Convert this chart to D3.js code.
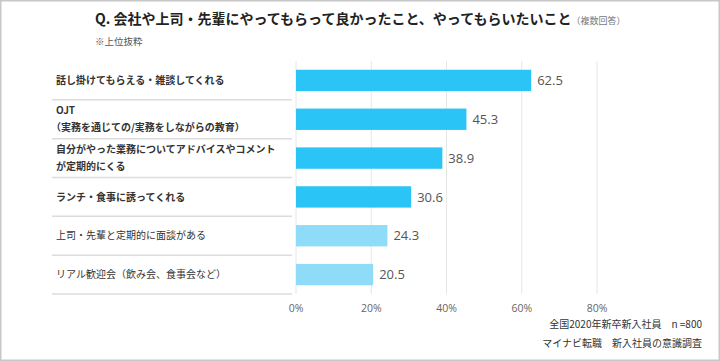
<!DOCTYPE html>
<html><head><meta charset="utf-8">
<script src="https://cdn.jsdelivr.net/npm/d3@7"></script>
<style>body{margin:0;background:#fff;}svg{display:block;font-family:"Noto Sans CJK JP","Noto Sans",sans-serif;}</style>
</head><body>
<svg id="c" width="720" height="361"></svg>
<script>
const categories = [
  ["話し掛けてもらえる・雑談してくれる"],
  ["OJT", "（実務を通じての/実務をしながらの教育）"],
  ["自分がやった業務についてアドバイスやコメント", "が定期的にくる"],
  ["ランチ・食事に誘ってくれる"],
  ["上司・先輩と定期的に面談がある"],
  ["リアル歓迎会（飲み会、食事会など）"]
];
const values = [62.5, 45.3, 38.9, 30.6, 24.3, 20.5];
const highlighted = [true, true, true, true, false, false];
const tickValues = [0, 20, 40, 60, 80];
const title = "Q. 会社や上司・先輩にやってもらって良かったこと、やってもらいたいこと";
const titleNote = "（複数回答）";
const subNote = "※上位抜粋";
const sourceLines = ["全国2020年新卒新入社員　n =800", "マイナビ転職　新入社員の意識調査"];

const svg = d3.select("#c");
svg.append("rect").attr("x",0.75).attr("y",0.75).attr("width",718.5).attr("height",359.5)
  .attr("fill","#fff").attr("stroke","#c8c8c8").attr("stroke-width",1.5);

const ids = categories.map((d,i)=>i);
const x = d3.scaleLinear().domain([0,80]).range([296,597]);
const y = d3.scaleBand().domain(ids).range([61,294]).paddingInner(0.45).paddingOuter(0.225);
const step = y.step();

// gridlines
svg.append("g").selectAll("line").data(tickValues).join("line")
  .attr("x1",d=>x(d)).attr("x2",d=>x(d)).attr("y1",61).attr("y2",294)
  .attr("stroke","#e6e6e6").attr("stroke-width",1);

// separators
svg.append("g").selectAll("line").data(ids).join("line")
  .attr("x1",52).attr("x2",292)
  .attr("y1",d=>y(d)+y.bandwidth()/2+step/2).attr("y2",d=>y(d)+y.bandwidth()/2+step/2)
  .attr("stroke","#dcdcdc").attr("stroke-width",1.5);

// bars
svg.append("g").selectAll("rect").data(ids).join("rect")
  .attr("x",x(0)).attr("y",d=>y(d)).attr("width",d=>x(values[d])-x(0)).attr("height",y.bandwidth())
  .attr("fill",d=>highlighted[d]?"#2AC4F6":"#8FDCF8");

// value labels
svg.append("g").selectAll("text").data(ids).join("text")
  .attr("x",d=>x(values[d])+6).attr("y",d=>y(d)+y.bandwidth()/2)
  .attr("dy","0.36em").attr("font-size",13).attr("fill","#555")
  .attr("font-family","'Open Sans','Noto Sans',sans-serif")
  .text(d=>values[d].toFixed(1));

// category labels
const lab = svg.append("g").selectAll("text").data(ids).join("text")
  .attr("x",56).attr("font-size",10).attr("fill","#333")
  .attr("font-weight",d=>highlighted[d]?"bold":"normal");
lab.each(function(d){
  const lines = categories[d];
  const cy = y(d)+y.bandwidth()/2;
  const t = d3.select(this);
  lines.forEach((ln,k)=>{
    const off = lines.length===1?0:(k===0?-8.5:8);
    t.append("tspan").attr("x",ln.startsWith("（")?51:56).attr("y",cy+off).attr("dy","0.36em").text(ln);
  });
});

// axis tick labels
svg.append("g").selectAll("text").data(tickValues).join("text")
  .attr("x",d=>x(d)).attr("y",308).attr("dy","0.36em").attr("text-anchor","middle")
  .attr("font-size",10.5).attr("fill","#666")
  .attr("font-family","'Open Sans','Noto Sans',sans-serif")
  .text(d=>d+"%");

// title
const tt = svg.append("text").attr("x",95).attr("y",18).attr("dy","0.36em");
tt.append("tspan").attr("font-size",14).attr("font-weight","bold").attr("fill","#222").text(title);
tt.append("tspan").attr("font-size",9).attr("fill","#777").text(titleNote);
svg.append("text").attr("x",95).attr("y",42).attr("dy","0.36em").attr("font-size",9.5).attr("fill","#555").text(subNote);

// source
svg.append("g").selectAll("text").data(sourceLines).join("text")
  .attr("x",702).attr("y",(d,i)=>324+i*19).attr("dy","0.36em").attr("text-anchor","end")
  .attr("font-size",10).attr("fill","#333").text(d=>d);
</script>
</body></html>
